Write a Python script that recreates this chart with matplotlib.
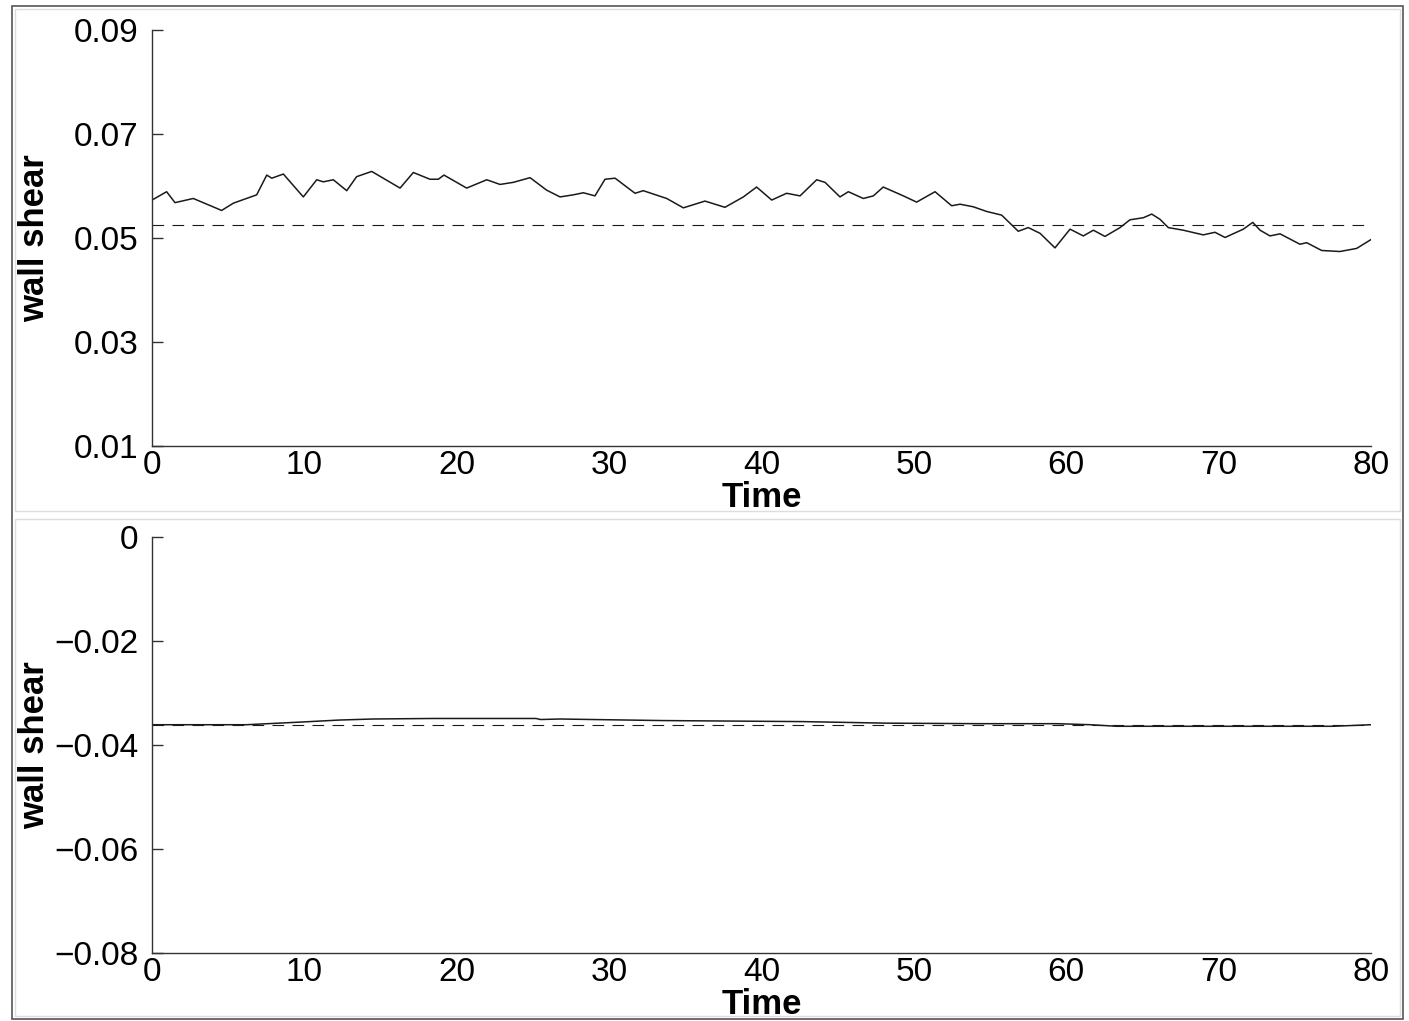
import numpy as np
import matplotlib
matplotlib.use('Agg')
import matplotlib.pyplot as plt
from matplotlib.patches import Rectangle

plt.rcParams['font.family'] = ['Liberation Sans', 'DejaVu Sans']

# wall shear, upper wall
top_t = [0, 0.96, 1.51, 2.71, 4.57, 5.34, 6.87, 7.53, 7.86, 8.62, 9.93, 10.81, 11.24, 11.90,
         12.78, 13.43, 14.42, 16.28, 17.15, 18.24, 18.79, 19.16, 20.65, 21.97, 22.84, 23.71,
         24.81, 25.90, 26.78, 27.65, 28.31, 29.07, 29.73, 30.39, 31.70, 32.24, 33.78, 34.87,
         36.29, 37.60, 38.81, 39.68, 40.67, 41.65, 42.53, 43.62, 44.17, 45.15, 45.70, 46.68,
         47.34, 47.99, 49.31, 50.18, 51.39, 52.48, 53.03, 53.90, 54.78, 55.76, 56.85, 57.51,
         58.28, 59.26, 60.25, 61.12, 61.78, 62.54, 63.53, 64.18, 65.06, 65.61, 66.15, 66.70,
         67.68, 68.99, 69.76, 70.42, 71.62, 72.24, 72.72, 73.37, 74.03, 75.34, 75.78, 76.76,
         77.96, 79.06, 80.0]
top_v = [0.0573, 0.0589, 0.0568, 0.0576, 0.0553, 0.0567, 0.0583, 0.0621, 0.0615, 0.0623,
         0.0579, 0.0612, 0.0608, 0.0612, 0.0591, 0.0618, 0.0628, 0.0596, 0.0626, 0.0613,
         0.0613, 0.0621, 0.0596, 0.0612, 0.0603, 0.0607, 0.0616, 0.0592, 0.0579, 0.0583,
         0.0587, 0.0581, 0.0613, 0.0615, 0.0586, 0.0591, 0.0576, 0.0558, 0.0571, 0.0559,
         0.0579, 0.0598, 0.0573, 0.0586, 0.0581, 0.0612, 0.0607, 0.0579, 0.0589, 0.0576,
         0.0581, 0.0598, 0.0581, 0.0569, 0.0589, 0.0562, 0.0565, 0.0560, 0.0551, 0.0544,
         0.0513, 0.0520, 0.0509, 0.0481, 0.0517, 0.0504, 0.0515, 0.0503, 0.0520, 0.0535,
         0.0539, 0.0546, 0.0536, 0.0520, 0.0515, 0.0506, 0.0511, 0.0501, 0.0517, 0.0530,
         0.0515, 0.0504, 0.0508, 0.0488, 0.0491, 0.0476, 0.0474, 0.0480, 0.0497]
top_mean = 0.0525

# wall shear, lower wall
bot_t = [0, 6.2, 9.7, 12.3, 14.5, 18.4, 25.2, 25.5, 26.8, 28.9, 33.5, 42.7, 48.2, 54.3,
         59.4, 61.6, 63.3, 77.5, 80]
bot_v = [-0.0361, -0.0361, -0.0356, -0.0352, -0.0350, -0.0349, -0.0349, -0.0351, -0.0350,
         -0.0351, -0.0353, -0.0355, -0.0358, -0.0359, -0.0359, -0.0361, -0.0364, -0.0364,
         -0.0361]
bot_mean = -0.0361

xticks = [0, 10, 20, 30, 40, 50, 60, 70, 80]
top_yticks = [0.01, 0.03, 0.05, 0.07, 0.09]
top_ylabels = ['0.01', '0.03', '0.05', '0.07', '0.09']
bot_yticks = [-0.08, -0.06, -0.04, -0.02, 0]
bot_ylabels = ['\u22120.08', '\u22120.06', '\u22120.04', '\u22120.02', '0']

W, H = 1409, 1021
fig = plt.figure(figsize=(W / 100, H / 100), dpi=100)

ax_w = (1371 - 152) / W
ax_h = (446 - 30) / H
ax1 = fig.add_axes([152 / W, 1 - 446 / H, ax_w, ax_h])
ax2 = fig.add_axes([152 / W, 1 - 953 / H, ax_w, ax_h])

panels = [(ax1, top_t, top_v, top_mean, (0.01, 0.09), top_yticks, top_ylabels),
          (ax2, bot_t, bot_v, bot_mean, (-0.08, 0), bot_yticks, bot_ylabels)]

for ax, t, v, m, ylim, yt, yl in panels:
    ax.plot(t, v, color='#1a1a1a', lw=1.1)
    ax.plot([0, 80], [m, m], color='#1a1a1a', lw=0.8, linestyle=(0, (10.5, 7.5)))
    ax.set_xlim(0, 80)
    ax.set_ylim(*ylim)
    ax.set_xticks(xticks)
    ax.set_yticks(yt)
    ax.set_yticklabels(yl)
    for s in ['top', 'right']:
        ax.spines[s].set_visible(False)
    for s in ['left', 'bottom']:
        ax.spines[s].set_color('#333333')
        ax.spines[s].set_linewidth(1.0)
    ax.tick_params(axis='y', direction='in', length=8, width=1, color='#333333',
                   labelsize=24, pad=10)
    ax.tick_params(axis='x', direction='in', length=0, labelsize=24, pad=3)
    ax.set_xlabel('Time', fontsize=25, fontweight='bold')
    ax.set_ylabel('wall shear', fontsize=25, fontweight='bold')
    ax.xaxis.set_label_coords(0.5, -0.083)
    ax.yaxis.set_label_coords(-0.083, 0.5)
    ax.patch.set_alpha(0)

# panel frames
fig.add_artist(Rectangle((12 / W, 2 / H), 1391 / W, 1013 / H, transform=fig.transFigure,
                         fill=False, ec='#555555', lw=1.2))
fig.add_artist(Rectangle((15 / W, 1 - 511 / H), 1385 / W, 502 / H, transform=fig.transFigure,
                         fill=False, ec='#dddddd', lw=1.0))
fig.add_artist(Rectangle((15 / W, 5 / H), 1385 / W, 497 / H, transform=fig.transFigure,
                         fill=False, ec='#dddddd', lw=1.0))

fig.savefig('out.png', dpi=100)
